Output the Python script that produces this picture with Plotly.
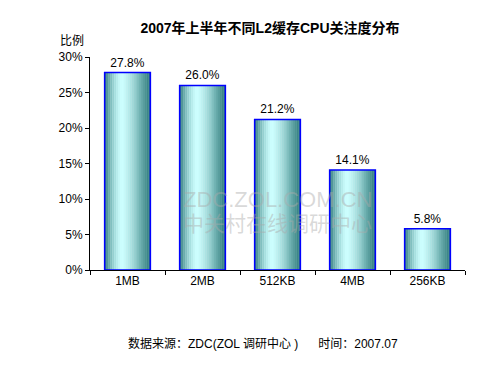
import plotly.graph_objects as go

categories = ["1MB", "2MB", "512KB", "4MB", "256KB"]
values = [27.8, 26.0, 21.2, 14.1, 5.8]
y_ticks = [0, 5, 10, 15, 20, 25, 30]
y_tick_labels = ["0%", "5%", "10%", "15%", "20%", "25%", "30%"]

title = "2007年上半年不同L2缓存CPU关注度分布"
y_title = "比例"
source = "数据来源：ZDC(ZOL 调研中心 )      时间：2007.07"

FONT = "Liberation Sans, Arial, Noto Sans CJK SC, sans-serif"

fig = go.Figure()

BW = 0.61
N = 24
dark = (40, 118, 118)
light = (205, 255, 255)
peak = 0.38

def col(t):
    if t <= peak:
        d = (peak - t) / peak
        f = 1 - d ** 1.6
    else:
        d = (t - peak) / (1 - peak)
        f = 1 - d ** 1.3
    c = [round(dark[k] + (light[k] - dark[k]) * f) for k in range(3)]
    return "rgb(%d,%d,%d)" % tuple(c)

sw = BW / N
for i in range(N):
    t = (i + 0.5) / N
    fig.add_trace(go.Bar(
        x=categories, y=values,
        width=[sw + 0.004] * len(categories),
        offset=[-BW / 2 + i * sw] * len(categories),
        marker=dict(color=col(t), line=dict(width=0)),
        showlegend=False, hoverinfo="skip",
    ))

fig.add_trace(go.Bar(
    x=categories, y=values,
    width=[BW] * len(categories),
    offset=[-BW / 2] * len(categories),
    marker=dict(color="rgba(0,0,0,0)", line=dict(color="#0000FF", width=1.5)),
    text=["%.1f%%" % v for v in values],
    textposition="outside",
    textfont=dict(family=FONT, size=12, color="black"),
    cliponaxis=False,
    showlegend=False,
))

fig.update_layout(
    width=500, height=375,
    barmode="overlay",
    paper_bgcolor="white", plot_bgcolor="white",
    margin=dict(l=82, r=43, t=49, b=113, autoexpand=False),
    font=dict(family=FONT, size=12, color="black"),
    title=dict(text="<b>" + title + "</b>", x=0.524, xanchor="center",
               y=1 - 20 / 375, yanchor="middle",
               font=dict(family=FONT, size=14, color="black")),
    xaxis=dict(showline=True, linecolor="black", linewidth=1,
               ticks="outside", tickson="boundaries", ticklen=4,
               tickcolor="black", showgrid=False, automargin=False,
               tickfont=dict(family=FONT, size=12)),
    yaxis=dict(range=[0, 30], tickmode="array", tickvals=y_ticks,
               ticktext=y_tick_labels,
               showline=True, linecolor="black", linewidth=1,
               ticks="outside", ticklen=4, tickcolor="black",
               showgrid=False, zeroline=False, automargin=False,
               tickfont=dict(family=FONT, size=12)),
    annotations=[
        dict(text=y_title, xref="paper", yref="paper", x=-0.012, y=1.0,
             yshift=16, xanchor="right", yanchor="middle", showarrow=False,
             font=dict(family=FONT, size=12)),
        dict(text=source, xref="paper", yref="paper", x=0.46, y=0,
             yshift=-73, xanchor="center", yanchor="middle", showarrow=False,
             font=dict(family=FONT, size=12)),
        dict(text="ZDC.ZOL.COM.CN", xref="paper", yref="paper",
             x=0.50, y=0.33, xanchor="center", yanchor="middle",
             showarrow=False,
             font=dict(family=FONT, size=22, color="rgba(170,170,170,0.45)")),
        dict(text="中关村在线调研中心", xref="paper", yref="paper",
             x=0.50, y=0.22, xanchor="center", yanchor="middle",
             showarrow=False,
             font=dict(family=FONT, size=21, color="rgba(170,170,170,0.45)")),
    ],
)

fig.write_html("out.html")
